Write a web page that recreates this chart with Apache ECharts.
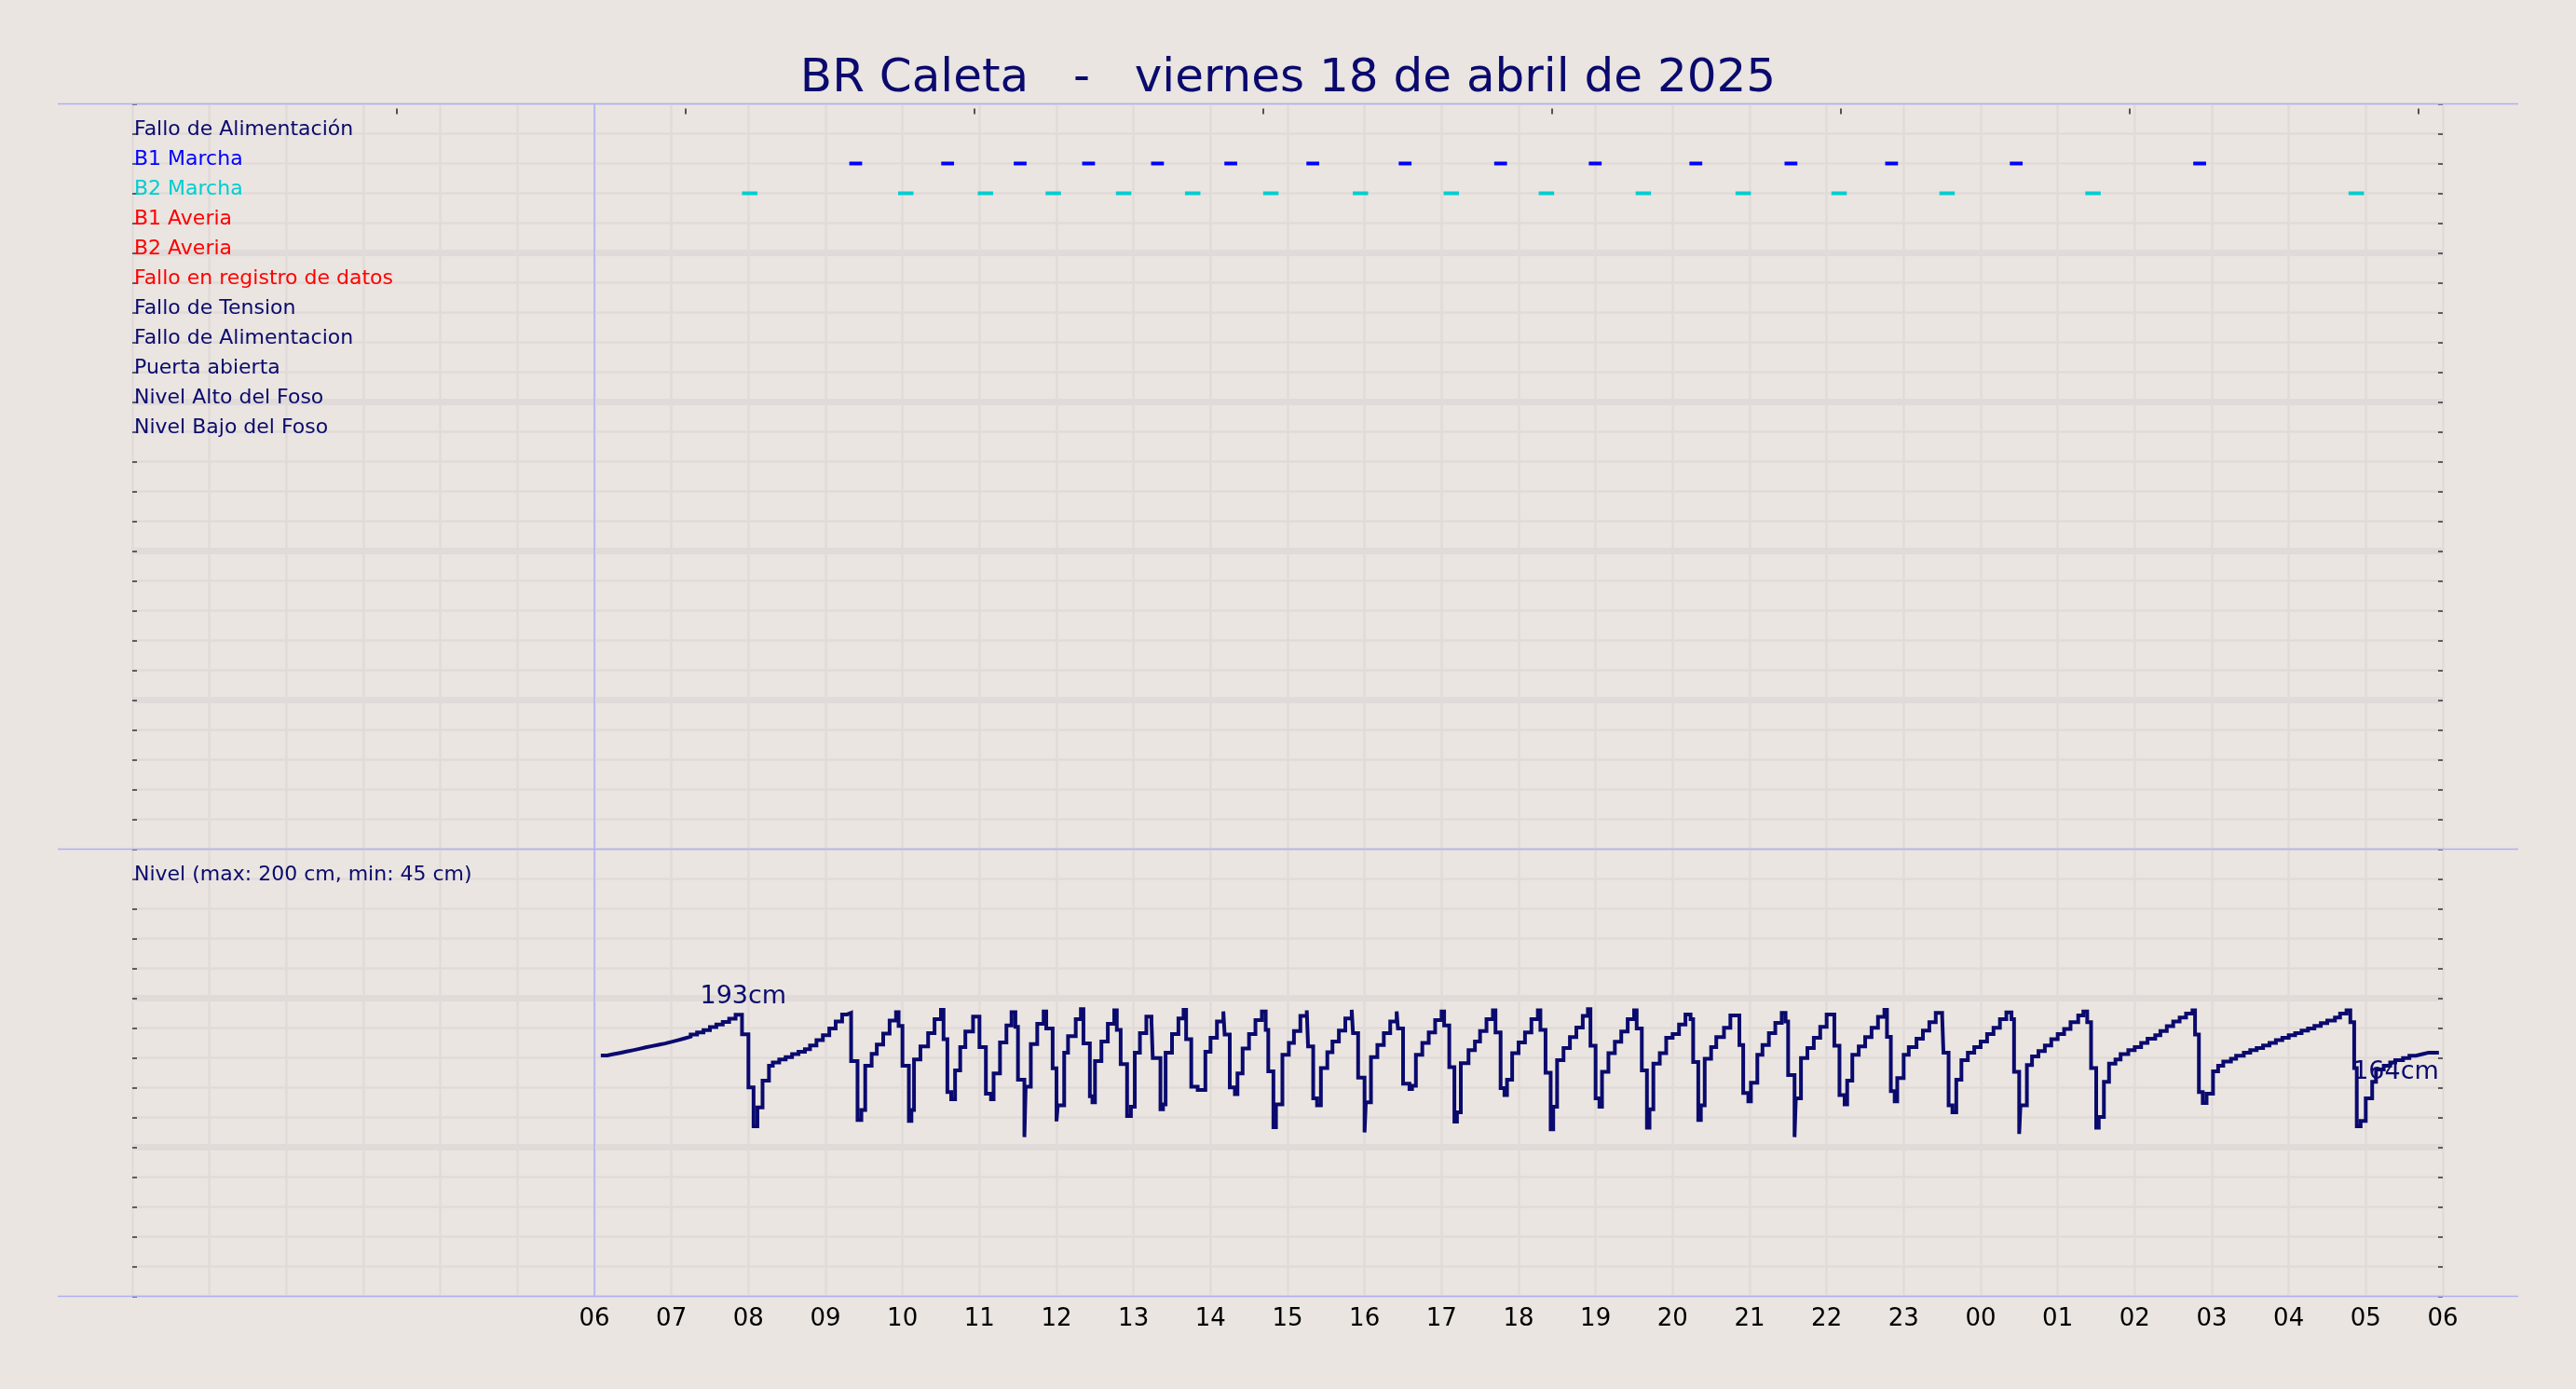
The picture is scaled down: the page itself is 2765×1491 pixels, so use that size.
<!DOCTYPE html>
<html><head><meta charset="utf-8">
<script src="https://cdn.jsdelivr.net/npm/echarts@6/dist/echarts.min.js"></script>
<style>html,body{margin:0;padding:0;background:#eae5e0;} #c{width:2765px;height:1491px;}</style>
</head><body><div id="c"></div><script>
// ---------- data ----------
const titleText = 'BR Caleta   -   viernes 18 de abril de 2025';
const rowLabels = ['Fallo de Alimentación','B1 Marcha','B2 Marcha','B1 Averia','B2 Averia','Fallo en registro de datos','Fallo de Tension','Fallo de Alimentacion','Puerta abierta','Nivel Alto del Foso','Nivel Bajo del Foso'];
const rowColors = ['#0a0a6e','#0000ff','#00cdd0','#ff0000','#ff0000','#ff0000','#0a0a6e','#0a0a6e','#0a0a6e','#0a0a6e','#0a0a6e'];
const levelRowLabels = ['Nivel (max: 200 cm, min: 45 cm)'];
const hourLabels = ['06','07','08','09','10','11','12','13','14','15','16','17','18','19','20','21','22','23','00','01','02','03','04','05','06'];
// pump running intervals, minutes after 06:00
const b1Marcha = [[198.6,208.6],[270.2,280.2],[326.7,336.7],[380,390],[433.7,443.7],[490.8,500.8],[554.7,564.7],[626.6,636.6],[701,711],[774.7,784.7],[853.1,863.1],[927.2,937.2],[1005.6,1015.6],[1102.7,1112.7],[1245.6,1255.6]];
const b2Marcha = [[115,127],[236.6,248.6],[298.7,310.7],[351.5,363.5],[406.3,418.3],[460.1,472.1],[521,533],[590.8,602.8],[661.6,673.6],[735.7,747.7],[811.2,823.2],[889,901],[963.7,975.7],[1047.8,1059.8],[1161.5,1173.5],[1366.6,1378.6]];
// level in cm, [minutes after 06:00, cm]
const nivel = [[5,161.8],[10,162.8],[15,163.8],[20,164.8],[25,165.8],[30,166.9],[35,168],[40,169],[45,170],[50,171],[55,172.2],[60,173.5],[65,174.8],[70,176.2],[75,177.8],[80,179.5],[85,181.2],[90,183.5],[95,185.5],[100,187.5],[105,190],[110,193],
[115,178],[120,137.3],[124,107.5],[127,122],[131,142.5],[136,154],[139,156.4],[144,158.7],[149,160.6],[154,162.8],[159,164.7],[164,166.6],[168,169.5],[173,173.5],[178,177.3],[183,182.5],[188,187.8],[193,193.3],[197,194.5],[200,157.5],[205,112.3],[208,120],[211,154],[216,163],[220,170.2],[225,178.5],[230,188.5],[235,195],[237,184.5],[240,154],[245,111.6],[247,120],[249,158.7],[254,168.7],[260,179],[265,189.7],[270,196.8],[272,174.2],[275,133.7],[278,128.3],[281,150.4],[285,168.3],[289,180.2],[295,191.6],[300,168.3],[305,132.5],[309,128.3],[311,148],[316,171.8],[321,184.9],[325,195],[328,183.7],[330,143.3],[335,99.2],[336,137.8],[340,170.6],[345,186.1],[350,195.6],[352,182.5],[357,152],
[360,111.3],[361,123.5],[366,164],[369,176.6],[375,189.7],[379,197.3],[381,171.1],[386,130.6],[388,125.9],[390,157.5],[395,172.5],[400,186.1],[405,196.4],[407,181.4],[410,155.2],[415,115.4],[418,122.5],[421,164],[425,179],[430,191.6],[434,187.8],[435,159.9],[441,120.6],[443,124.2],[445,164],[450,178.3],[455,190.2],[459,196.8],[461,174.2],[465,137.8],[470,135.4],[476,164.7],[480,175.4],[485,187.8],[490,195.6],[491,177.8],[495,137.3],[499,132.1],[501,148],[505,167.1],[510,178.3],[515,189],[520,195.6],[523,181.4],[525,149.7],[529,106.8],[531,124.2],[536,162.3],[541,171.4],[545,180.6],[550,192.1],[555,196.4],[556,168.7],[560,129],[563,123.5],[566,152.1],[571,164.2],[575,172.5],[580,180.9],[585,190.2],[590,196.8],[591,179],[595,144.9],[600,102.8],[601,125.9],[605,160.6],[610,169.9],[615,179],[620,187.8],[625,195.6],[626,182.5],[630,140.2],[635,136.1],[637,138.5],[640,162.3],[645,171.4],[650,179.5],[655,189],[660,195.6],[662,184.9],[666,152.8],[670,111.1],[672,118.3],[675,155.9],[681,165.9],[686,172.5],[690,180.6],[695,189.7],[700,196.4],[702,179.5],[706,136.8],[709,131.4],[711,143.3],[715,163.5],
[720,171.8],[725,179.5],[730,189.7],[735,196.4],[737,181.4],[741,148.5],[745,105.2],[747,122.5],[750,158.3],[755,167.5],[760,175.9],[765,183.3],[770,192.1],[774,197.3],[776,169.2],[780,129],[783,122.5],[785,149.2],[790,163.5],[795,172.3],[800,180.2],[805,189.7],[810,196.4],[812,182.5],[816,150.4],[820,106.4],[822,120.6],[825,155.6],[830,163.5],[835,175.4],[840,178.3],[845,185.6],[850,193.3],[854,189.7],[856,156.8],[860,112.3],[862,123.5],[865,159.2],[870,168.3],[874,175.9],[880,183],[885,192.5],[892,169.9],[895,133],[899,126.6],[901,140.9],[906,162.3],[910,169.9],[915,179],[920,186.8],[925,194.5],[928,187.8],[930,146.8],[935,99.2],[936,129],[940,159.9],[945,167.5],[950,175.4],[955,183.7],[960,193.3],[966,169.2],[970,131.4],[974,124.2],[976,142.5],[980,162.3],[985,168.7],[990,175.9],[995,183],[1000,191.4],[1005,196.8],[1007,176.1],[1010,134.5],[1013,126.6],[1015,144.5],[1020,162.3],[1024,168.3],[1030,174.7],[1035,180.9],[1040,187.3],[1045,194.5],[1050,192],[1051,164],[1055,123.5],[1058,118.3],[1061,143.3],[1065,158.3],[1070,164],[1075,168.3],[1080,172.5],
[1085,178.3],[1090,183],[1095,189.7],[1100,194.9],[1104,189.7],[1106,149.2],[1110,101.6],[1111,123.5],[1116,154.5],[1120,161.1],[1125,165.2],[1130,169.5],[1135,174.2],[1140,178.3],[1145,182.1],[1150,187.3],[1156,192.5],[1160,195.6],[1163,187.3],[1166,152.1],[1170,106.4],[1172,114.7],[1176,141.6],[1180,155.6],[1185,158.7],[1189,162.8],[1195,165.9],[1200,168.3],[1205,171.4],[1210,174.7],[1216,177.3],[1220,180.6],[1225,184.2],[1230,187.8],[1235,190.9],[1240,194],[1245,196.4],[1247,177.8],[1250,133.7],[1253,125.4],[1256,132.5],[1261,149.7],[1265,154],[1269,157.1],[1275,159.2],[1279,161.6],[1285,164],[1290,165.9],[1295,167.5],[1300,169.5],[1305,171.4],[1310,173.5],[1315,175.4],[1320,177.3],[1325,179],[1330,180.9],[1335,182.5],[1340,184.5],[1345,186.6],[1350,188.5],[1356,190.9],[1360,194],[1365,196.4],[1368,187.3],[1371,152.1],[1373,107.5],[1376,111.6],[1380,129],[1385,141.6],[1388,151.1],[1394,154],[1399,156.4],[1403,158.3],[1409,159.9],[1414,161.6],[1419,163],[1425,164],[1429,164],[1437,164]];
const nivelNotes = [[116,193],[1437,164]];
const topTickMinutes = [206.25,431.25,656.25,881.25,1106.25,1331.25,1556.25,1781.25];

// ---------- style ----------
const FONT = "'DejaVu Sans', sans-serif";
const NAVY = '#0a0a6e';
const GRID = '#e0dbd9';
const FRAME = '#b0b0f4';
const BG = '#eae5e0';
const DAY0 = 360; // 06:00 in minutes from 00:00

const chart = echarts.init(document.getElementById('c'), null, {renderer:'canvas', width:2765, height:1491});

function xAxisBase(gi, showLabels){
  return {gridIndex:gi, type:'value', min:0, max:1800, interval:60, position:'bottom',
    axisLine:{show:false}, axisTick:{show:false},
    axisLabel:{show:showLabels, showMaxLabel:true, showMinLabel:true, fontSize:26, color:'#000', margin:12, fontFamily:FONT,
      formatter: v => v >= DAY0 ? (hourLabels[Math.round((v - DAY0) / 60)] || '') : ''},
    splitLine:{show:true, lineStyle:{color:GRID, width:2.5}}};
}
function rowAxis(gi, rows, labels, colors){
  return {gridIndex:gi, type:'value', min:0, max:rows, interval:1, inverse:true, position:'left',
    axisLine:{show:false},
    axisTick:{show:true, inside:true, length:5, lineStyle:{color:'#333', width:1.5}},
    axisLabel:{show:true, inside:true, margin:2, align:'left', verticalAlign:'bottom', fontSize:22, lineHeight:8, fontFamily:FONT,
      formatter: v => labels[v - 1] || '',
      color: (v) => colors[v - 1] || NAVY},
    splitLine:{show:true, lineStyle:{color:GRID, width:2.5}}};
}
function thickAxis(gi, rows){
  return {gridIndex:gi, type:'value', min:0, max:rows, interval:5, inverse:true, position:'left',
    axisLine:{show:false}, axisTick:{show:false}, axisLabel:{show:false},
    splitLine:{show:true, showMinLine:false, showMaxLine:false, lineStyle:{color:GRID, width:7}}};
}
function rightAxis(gi, rows){
  return {gridIndex:gi, type:'value', min:0, max:rows, interval:1, inverse:true, position:'right',
    axisLine:{show:false}, axisLabel:{show:false}, splitLine:{show:false},
    axisTick:{show:true, inside:true, length:5, lineStyle:{color:'#333', width:1.5}}};
}
function dashSeries(name, data, row, color){
  return {name, type:'custom', xAxisIndex:0, yAxisIndex:0,
    data: data.map(p => [DAY0 + p[0], DAY0 + p[1], row]),
    encode:{x:[0,1], y:2},
    renderItem:(params, api) => {
      const a = api.coord([api.value(0), api.value(2)]);
      const b = api.coord([api.value(1), api.value(2)]);
      return {type:'rect', shape:{x:a[0], y:a[1] - 2, width:b[0] - a[0], height:4}, style:{fill:color}};
    }};
}
const sixLine = {silent:true, symbol:['none','none'], label:{show:false},
  lineStyle:{color:FRAME, width:1.5, type:'solid'}, emphasis:{disabled:true}, data:[{xAxis:DAY0}]};

const L = 142, R = 2622, T = 111.5, MID = 911.5, B = 1391.5;
const option = {
  backgroundColor: BG,
  animation:false,
  title:{text:titleText, left:'center', top:55, textStyle:{fontSize:50, fontWeight:'normal', color:NAVY, fontFamily:FONT}},
  grid:[
    {left:L, width:R - L, top:T, height:MID - T},
    {left:L, width:R - L, top:MID, height:B - MID}
  ],
  xAxis:[
    xAxisBase(0, false),
    xAxisBase(1, true),
    {gridIndex:0, type:'value', min:0, max:1800, position:'top', offset:-5,
      axisLine:{show:false}, axisLabel:{show:false}, splitLine:{show:false},
      axisTick:{show:true, inside:true, length:6, customValues:topTickMinutes, lineStyle:{color:'#222', width:1.5}}}
  ],
  yAxis:[
    rowAxis(0, 25, rowLabels, rowColors),
    thickAxis(0, 25),
    rightAxis(0, 25),
    rowAxis(1, 15, levelRowLabels, [NAVY]),
    thickAxis(1, 15),
    rightAxis(1, 15),
    {gridIndex:1, type:'value', min:-22.857, max:320, show:false, splitLine:{show:false}}
  ],
  series:[
    Object.assign(dashSeries('B1 Marcha', b1Marcha, 2, '#0000ff'), {markLine:sixLine}),
    dashSeries('B2 Marcha', b2Marcha, 3, '#00cdd0'),
    {name:'Nivel', type:'line', xAxisIndex:1, yAxisIndex:6, step:'end', showSymbol:false, symbol:'none',
      data: nivel.map(p => [DAY0 + p[0], p[1]]),
      lineStyle:{color:NAVY, width:4, join:'miter', cap:'butt'},
      markLine:sixLine, z:3},
    {name:'notas', type:'scatter', xAxisIndex:1, yAxisIndex:6, symbolSize:0, z:5, silent:true,
      itemStyle:{opacity:1, color:NAVY},
      data:[
        {value:[DAY0 + nivelNotes[0][0], nivelNotes[0][1]], label:{show:true, position:'top', distance:6}},
        {value:[DAY0 + nivelNotes[1][0], nivelNotes[1][1]], label:{show:true, position:[0, 8], align:'right', verticalAlign:'top'}}
      ],
      label:{formatter: p => Math.round(p.value[1]) + 'cm', fontSize:27, color:NAVY, opacity:1, fontFamily:FONT}}
  ],
  graphic:[
    {type:'line', shape:{x1:62, y1:T, x2:2703, y2:T}, style:{stroke:FRAME, lineWidth:1.5}, z:100, silent:true},
    {type:'line', shape:{x1:62, y1:MID, x2:2703, y2:MID}, style:{stroke:FRAME, lineWidth:1.5}, z:100, silent:true},
    {type:'line', shape:{x1:62, y1:B, x2:2703, y2:B}, style:{stroke:FRAME, lineWidth:1.5}, z:100, silent:true}
  ]
};
chart.setOption(option);
</script></body></html>
